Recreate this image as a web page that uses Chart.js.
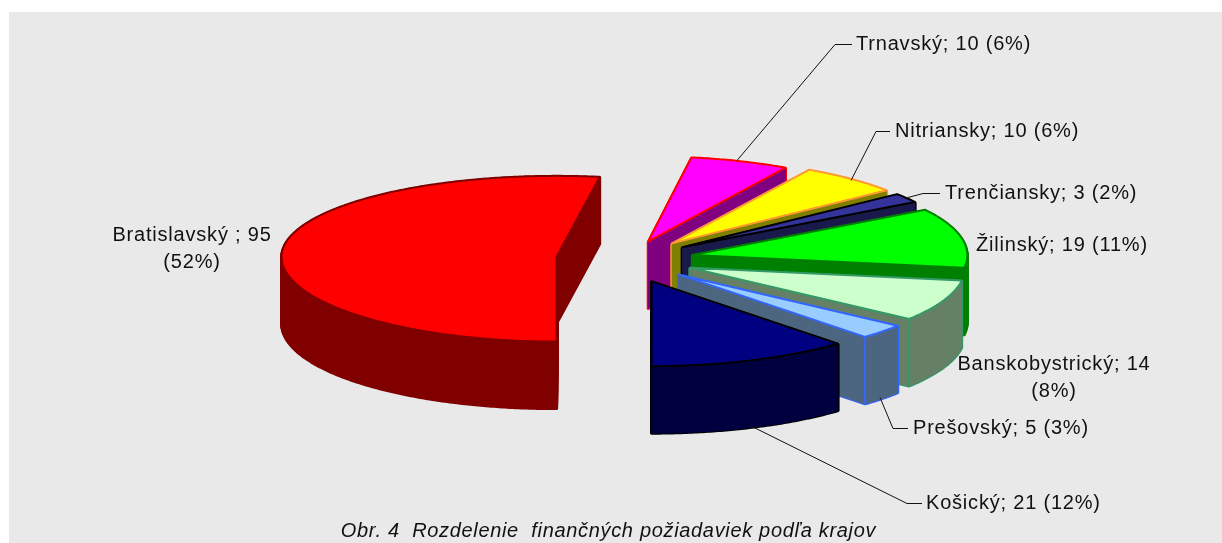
<!DOCTYPE html>
<html>
<head>
<meta charset="utf-8">
<script src="https://cdn.jsdelivr.net/npm/chart.js@4"></script>
<style>
  html, body { margin: 0; padding: 0; background: #fff; }
  canvas { display: block; }
</style>
</head>
<body>
<canvas id="canvas1" width="1222" height="543"></canvas>
<script>
const categories = ['Bratislavský ', 'Trnavský', 'Nitriansky', 'Trenčiansky', 'Žilinský', 'Banskobystrický', 'Prešovský', 'Košický'];
const values = [95, 10, 10, 3, 19, 14, 5, 21];
const percents = [52, 6, 6, 2, 11, 8, 3, 12];
const caption = 'Obr. 4  Rozdelenie  finančných požiadaviek podľa krajov';

const topColors = ['#ff0000', '#ff00ff', '#ffff00', '#333399', '#00ff00', '#ccffcc', '#99ccff', '#000080'];
const wallColors = ['#800000', '#800080', '#808000', '#1a1a4d', '#008000', '#668066', '#4d6680', '#000040'];
const edgeColors = ['#800000', '#ff0000', '#ff9933', '#000000', '#008000', '#339966', '#3366ff', '#000000'];
const explodes = [0.245, 0.2265, 0.2545, 0.2545, 0.2545, 0.262, 0.27, 0.28];

// where the text sits: x, y of the first line, align, and the leader line if there is one
const labelSpots = [
  { x: 192, y: 235, align: 'center', wrap: true },
  { x: 856, y: 44, align: 'left', line: [[737, 160], [835, 44], [852, 44]] },
  { x: 895, y: 131, align: 'left', line: [[851, 180], [876, 131], [890, 131]] },
  { x: 945, y: 193, align: 'left', line: [[908, 197], [923, 193], [940, 193]] },
  { x: 976, y: 245, align: 'left' },
  { x: 1054, y: 364, align: 'center', wrap: true },
  { x: 913, y: 428, align: 'left', line: [[880, 397], [893, 428], [908, 428]] },
  { x: 926, y: 503, align: 'left', line: [[750, 425], [907, 503], [922, 503]] }
];

// pie look: centre on the page, ellipse radii, thickness
const originX = 623.5, originY = 259, radiusX = 275, radiusY = 85;
const depth = 67;
const backSkew = 4.3 * Math.PI / 180;
const redBackFlat = 0.95;

const pie3d = {
  id: 'pie3d',
  beforeDraw(chart) {
    chart.ctx.fillStyle = '#e9e9e9';
    chart.ctx.fillRect(9, 12, 1213, 531);
    chart.ctx.letterSpacing = '0.67px';
  },
  beforeDatasetsDraw(chart) {
    const ctx = chart.ctx;
    const arcs = chart.getDatasetMeta(0).data;
    const nativeLineTo = CanvasRenderingContext2D.prototype.lineTo;

    const drawSlice = (arc, i, drop, fill, stroke, width) => {
      const mid = (arc.startAngle + arc.endAngle) / 2;
      const R = arc.outerRadius;
      // flatten the arc element's own path onto the tilted plane
      ctx.lineTo = (x, y) => {
        const dist = Math.hypot(x - arc.x, y - arc.y) / R;
        let a = Math.atan2(y - arc.y, x - arc.x);
        a -= backSkew * Math.max(0, -Math.sin(a));
        const flat = (i == 0 && Math.sin(a) < 0) ? redBackFlat : 1;
        nativeLineTo.call(ctx,
          originX + radiusX * (dist * Math.cos(a) + explodes[i] * Math.cos(mid)),
          originY + radiusY * (dist * Math.sin(a) * flat + explodes[i] * Math.sin(mid)) + drop);
      };
      ctx.arc = (x, y, r, a0, a1) => {
        const n = Math.max(1, Math.ceil(Math.abs(a1 - a0) / 0.01));
        for (let k = 0; k <= n; k++) {
          const a = a0 + (a1 - a0) * k / n;
          ctx.lineTo(x + r * Math.cos(a), y + r * Math.sin(a));
        }
      };
      const saved = arc.options;
      arc.options = {
        backgroundColor: fill, borderColor: stroke, borderWidth: width, borderAlign: 'center',
        borderJoinStyle: 'round', borderRadius: 0, borderDash: [], borderDashOffset: 0,
        offset: 0, spacing: 0, circular: true
      };
      arc.draw(ctx);
      arc.options = saved;
      delete ctx.lineTo;
      delete ctx.arc;
    };

    arcs.forEach((arc, i) => {
      for (let d = depth; d > 0; d--) drawSlice(arc, i, d, wallColors[i], edgeColors[i], 3);
      for (let d = depth; d > 0; d--) drawSlice(arc, i, d, wallColors[i], wallColors[i], 1);
      // front corner of the wall
      const end = arc.endAngle;
      if (i == 5 || i == 6) {
        const mid = (arc.startAngle + end) / 2;
        const cx = originX + radiusX * (Math.cos(end) + explodes[i] * Math.cos(mid));
        const cy = originY + radiusY * (Math.sin(end) + explodes[i] * Math.sin(mid));
        ctx.strokeStyle = edgeColors[i];
        ctx.lineWidth = 2;
        ctx.beginPath();
        ctx.moveTo(cx, cy);
        ctx.lineTo(cx, cy + depth);
        ctx.stroke();
      }
      drawSlice(arc, i, 0, topColors[i], edgeColors[i], 2);
    });

    ctx.strokeStyle = '#111';
    ctx.lineWidth = 1;
    labelSpots.forEach(s => {
      if (!s.line) return;
      ctx.beginPath();
      s.line.forEach((p, k) => k ? ctx.lineTo(p[0], p[1] + 0.5) : ctx.moveTo(p[0], p[1] + 0.5));
      ctx.stroke();
    });

    ctx.fillStyle = '#111';
    ctx.font = '20px "Liberation Sans"';
    ctx.letterSpacing = '0.8px';
    ctx.textBaseline = 'middle';
    labelSpots.forEach((s, i) => {
      ctx.textAlign = s.align;
      const head = categories[i] + '; ' + values[i];
      const tail = '(' + percents[i] + '%)';
      if (s.wrap) {
        ctx.fillText(head, s.x, s.y);
        ctx.fillText(tail, s.x, s.y + 27);
      } else {
        ctx.fillText(head + ' ' + tail, s.x, s.y);
      }
    });
    return false;
  }
};

new Chart(document.getElementById('canvas1'), {
  type: 'pie',
  data: {
    labels: categories,
    datasets: [{ data: values, backgroundColor: topColors, borderColor: edgeColors }]
  },
  options: {
    responsive: false,
    animation: false,
    events: [],
    rotation: 180,
    layout: { padding: { right: 5 } },
    plugins: {
      legend: { display: false },
      tooltip: { enabled: false },
      title: {
        display: true,
        text: caption,
        position: 'bottom',
        fullSize: false,
        color: '#111',
        font: { family: '"Liberation Sans"', size: 20, style: 'italic', weight: 'normal' },
        padding: { top: 0, bottom: 0 }
      }
    }
  },
  plugins: [pie3d]
});
</script>
</body>
</html>
